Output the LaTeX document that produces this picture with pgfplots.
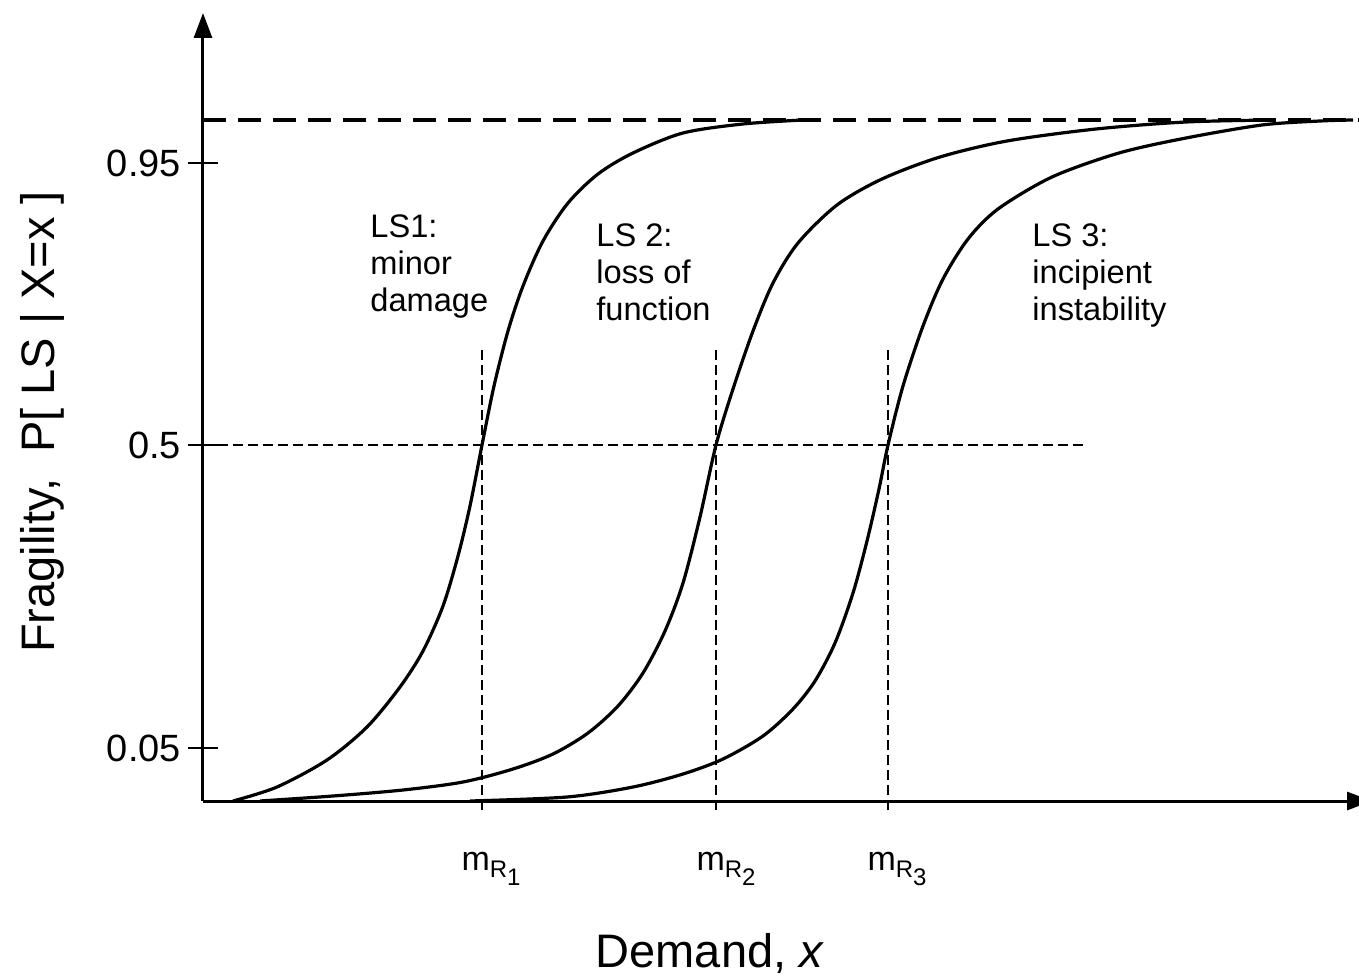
\documentclass[border=0pt]{standalone}
\usepackage{fontspec}
\setmainfont{Liberation Sans}
\usepackage{pgfplots}
\pgfplotsset{compat=1.18}
\usetikzlibrary{arrows.meta}
\newcommand{\mR}[1]{m\raisebox{-3.5pt}{\fontsize{12}{12}\selectfont R\raisebox{-4pt}{#1}}}
\begin{document}
\begin{tikzpicture}
\begin{axis}[
  x=0.5pt, y=0.5pt,
  xmin=0, xmax=1169, ymin=0, ymax=788,
  axis lines=left,
  axis line style={line width=1.5pt, -{Triangle[length=12.5pt,width=9pt]}},
  clip=false,
  xtick=\empty,
  ytick={53,356,638},
  yticklabels={0.05,0.5,0.95},
  tick align=center,
  major tick length=15pt,
  tick style={line width=1.2pt, black},
  yticklabel style={font=\fontsize{19}{21}\selectfont},
  every axis y label/.style={at={(axis description cs:-0.1377,0.481)}, rotate=90, anchor=center, font=\fontsize{23.5}{28}\selectfont},
  every axis x label/.style={at={(axis description cs:0.4337,-0.2119)}, anchor=base, font=\fontsize{23.5}{28}\selectfont},
  xlabel={Demand, \textit{x}},
  ylabel={Fragility,\ \ P[ LS | X=x ]},
]
% guide lines
\addplot[black, line width=2pt, dash pattern=on 11.5pt off 6pt] coordinates {(0,681) (1156,681)};
\addplot[black, line width=0.9pt, dash pattern=on 5pt off 2.5pt] coordinates {(0,356) (880,356)};
\addplot[black, line width=0.9pt, dash pattern=on 5pt off 2.5pt] coordinates {(279,-9) (279,454)};
\addplot[black, line width=0.9pt, dash pattern=on 5pt off 2.5pt] coordinates {(513,-9) (513,454)};
\addplot[black, line width=0.9pt, dash pattern=on 5pt off 2.5pt] coordinates {(685,-9) (685,454)};
% LS1
\addplot[black, line width=1.6pt, smooth] coordinates {
(30,0) (74,14) (124,41) (164,74) (197,114) (220,150) (240,195) (255,245) (267,295) (279,356) (291,415) (305,470) (320,515) (340,560) (365,598) (395,627) (430,648) (480,668) (540,677) (600,681)};
% LS2
\addplot[black, line width=1.6pt, smooth] coordinates {
(57,0) (130,5) (200,11) (260,19) (310,32) (350,47) (385,68) (415,95) (440,128) (462,170) (480,218) (497,284) (513,356) (530,412) (550,470) (570,518) (595,558) (634,596) (679,622) (737,644) (804,660) (893,672) (983,679) (1070,681)};
% LS3
\addplot[black, line width=1.6pt, smooth] coordinates {
(267,0) (364,4) (430,14) (480,27) (520,42) (560,65) (590,92) (612,120) (632,158) (650,208) (664,260) (676,312) (685,356) (700,415) (720,475) (740,522) (765,562) (795,592) (849,624) (916,648) (983,663) (1059,676) (1117,680) (1150,681)};
% annotations
\node[anchor=north west, inner sep=0pt, align=left, font=\fontsize{16.3}{18.5}\selectfont] at (axis cs:167,587) {LS1:\\minor\\damage};
\node[anchor=north west, inner sep=0pt, align=left, font=\fontsize{16.3}{18.5}\selectfont] at (axis cs:393,578) {LS 2:\\loss of\\function};
\node[anchor=north west, inner sep=0pt, align=left, font=\fontsize{16.3}{18.5}\selectfont] at (axis cs:829,578) {LS 3:\\incipient\\instability};
\node[anchor=base, inner sep=0pt, font=\fontsize{17}{20}\selectfont] at (axis cs:288,-69) {\mR{1}};
\node[anchor=base, inner sep=0pt, font=\fontsize{17}{20}\selectfont] at (axis cs:523,-69) {\mR{2}};
\node[anchor=base, inner sep=0pt, font=\fontsize{17}{20}\selectfont] at (axis cs:694,-69) {\mR{3}};
\end{axis}
\pgfresetboundingbox
\path (-101.5pt,-87pt) rectangle (578pt,400.5pt);
\end{tikzpicture}
\end{document}
